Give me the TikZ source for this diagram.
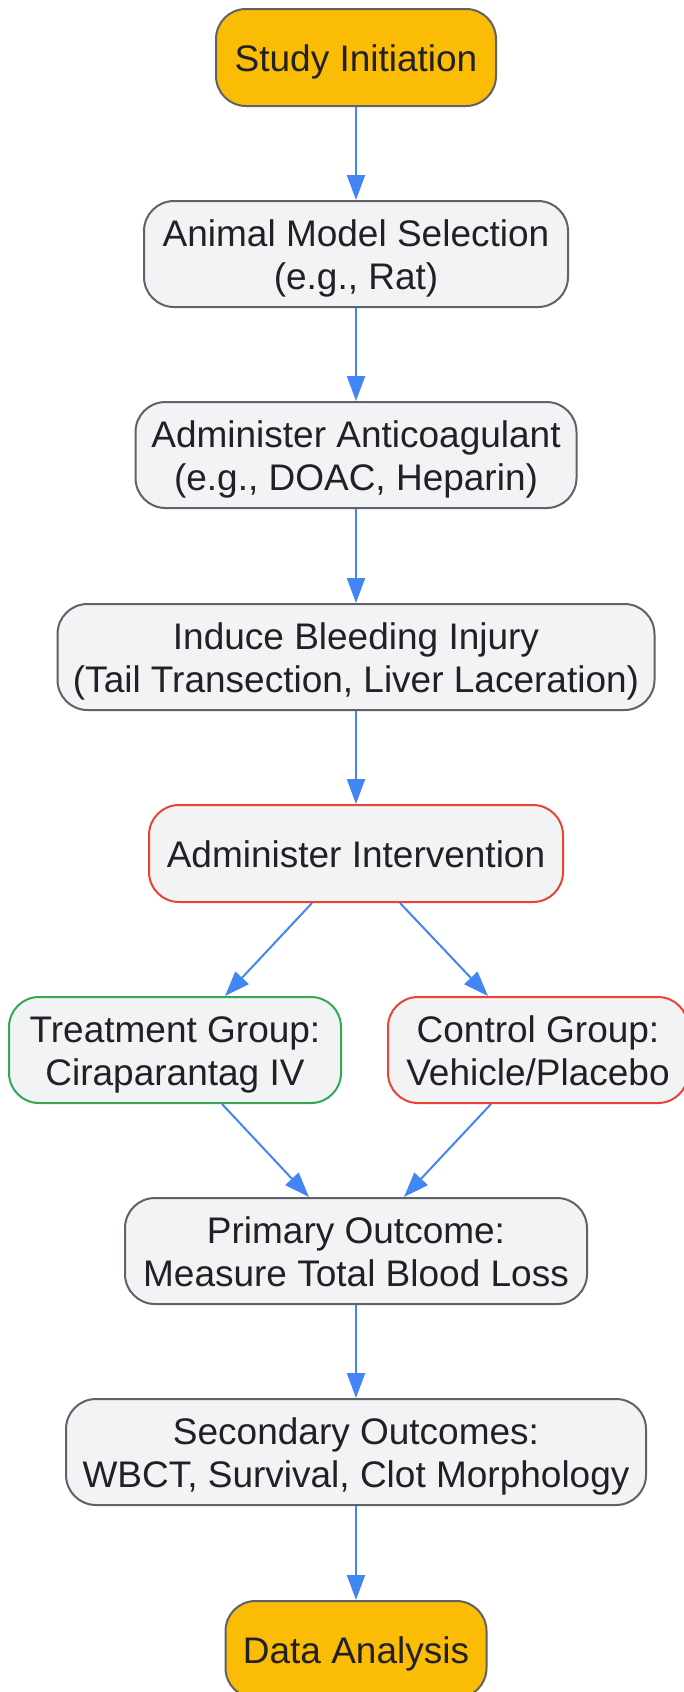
\documentclass[tikz,border=0pt]{standalone}
\usepackage{fontspec}
\setmainfont{Liberation Sans}
\usetikzlibrary{arrows.meta}
\definecolor{boxfill}{HTML}{F1F3F4}
\definecolor{bordergray}{HTML}{5F6368}
\definecolor{gold}{HTML}{FBBC05}
\definecolor{arrowblue}{HTML}{4285F4}
\definecolor{redline}{HTML}{EA4335}
\definecolor{greenline}{HTML}{34A853}
\definecolor{textcol}{HTML}{202124}
\newcommand{\myTop}{\rule{0pt}{36pt}}
\newcommand{\myBot}{\rule[-8pt]{0pt}{0pt}}
\tikzset{
  flowbox/.style={rounded corners=30pt, draw=bordergray, line width=2pt, fill=boxfill,
    text=textcol, font=\fontsize{37}{42.5}\selectfont, align=center,
    inner xsep=0pt, inner ysep=0pt, minimum height=106pt},
  termbox/.style={flowbox, fill=gold, minimum height=97pt},
  redbox/.style={flowbox, draw=redline},
  greenbox/.style={flowbox, draw=greenline},
  flowarrow/.style={draw=arrowblue, line width=2pt, -{Triangle[length=25pt,width=18pt]}}
}
\begin{document}
\begin{tikzpicture}[x=1pt,y=-1pt]
\useasboundingbox (0,0) rectangle (683,1692);
\fill[white] (0,0) rectangle (683,1692);
\node[termbox, minimum width=280pt] (start) at (356,57.5) {\myTop Study Initiation\myBot};
\node[flowbox, minimum width=424pt] (animal) at (356,254) {\myTop Animal Model Selection\\(e.g., Rat)\myBot};
\node[flowbox, minimum width=441pt] (anticoag) at (356,455) {\myTop Administer Anticoagulant\\(e.g., DOAC, Heparin)\myBot};
\node[flowbox, minimum width=597pt] (induce) at (356,657) {\myTop Induce Bleeding Injury\\(Tail Transection, Liver Laceration)\myBot};
\node[redbox, minimum width=414pt, minimum height=97pt] (interv) at (356,853.5) {\myTop Administer Intervention\myBot};
\node[greenbox, minimum width=332pt] (treat) at (175,1050) {\myTop Treatment Group:\\Ciraparantag IV\myBot};
\node[redbox, minimum width=300pt] (ctrl) at (538,1050) {\myTop Control Group:\\Vehicle/Placebo\myBot};
\node[flowbox, minimum width=462pt] (primary) at (356,1251) {\myTop Primary Outcome:\\Measure Total Blood Loss\myBot};
\node[flowbox, minimum width=580pt] (secondary) at (356,1452) {\myTop Secondary Outcomes:\\WBCT, Survival, Clot Morphology\myBot};
\node[termbox, minimum width=261pt] (analysis) at (356,1649.5) {\myTop Data Analysis\myBot};

\draw[flowarrow] (start.south) -- (animal.north);
\draw[flowarrow] (animal.south) -- (anticoag.north);
\draw[flowarrow] (anticoag.south) -- (induce.north);
\draw[flowarrow] (induce.south) -- (interv.north);
\draw[flowarrow] ([xshift=-44pt]interv.south) -- ([xshift=50pt]treat.north);
\draw[flowarrow] ([xshift=44pt]interv.south) -- ([xshift=-50pt]ctrl.north);
\draw[flowarrow] ([xshift=47pt]treat.south) -- ([xshift=-47pt]primary.north);
\draw[flowarrow] ([xshift=-47pt]ctrl.south) -- ([xshift=48pt]primary.north);
\draw[flowarrow] (primary.south) -- (secondary.north);
\draw[flowarrow] (secondary.south) -- (analysis.north);
\end{tikzpicture}
\end{document}
